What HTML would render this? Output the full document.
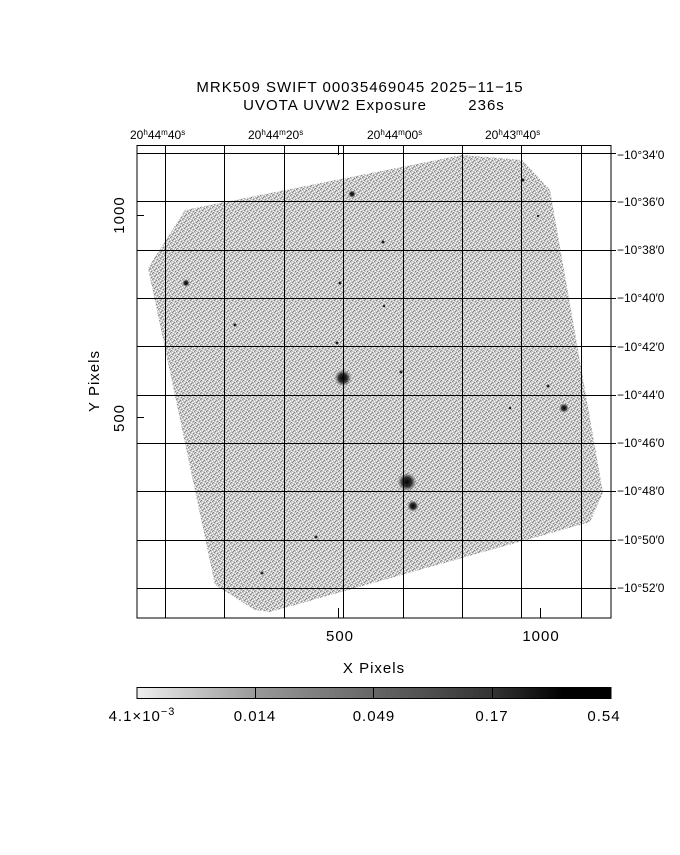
<!DOCTYPE html>
<html><head><style>
body{margin:0;background:#fff}
text{font-family:"Liberation Sans",sans-serif;fill:#000}
</style></head><body>
<svg width="680" height="850" viewBox="0 0 680 850" xmlns="http://www.w3.org/2000/svg">
<defs>
<pattern id="nz" width="6" height="6" patternUnits="userSpaceOnUse">
<rect width="6" height="6" fill="#c8c8c8"/>
<rect x="0" y="0" width="1" height="1" fill="#fff"/><rect x="3" y="1" width="1" height="1" fill="#fff"/>
<rect x="1" y="3" width="1" height="1" fill="#fff"/><rect x="4" y="4" width="1" height="1" fill="#fff"/>
<rect x="2" y="5" width="1" height="1" fill="#fff"/><rect x="5" y="2" width="1" height="1" fill="#fff"/>
<rect x="1" y="1" width="1" height="1" fill="#888"/><rect x="4" y="0" width="1" height="1" fill="#888"/>
<rect x="2" y="3" width="1" height="1" fill="#888"/><rect x="5" y="5" width="1" height="1" fill="#888"/>
<rect x="0" y="4" width="1" height="1" fill="#888"/><rect x="3" y="2" width="1" height="1" fill="#888"/>
</pattern>
<radialGradient id="g1"><stop offset="0" stop-color="#000"/><stop offset="0.5" stop-color="#333"/><stop offset="1" stop-color="#999" stop-opacity="0"/></radialGradient>
</defs>
<text x="360" y="92" font-size="15" letter-spacing="1" text-anchor="middle">MRK509 SWIFT 00035469045 2025−11−15</text>
<text x="374" y="110" font-size="15" letter-spacing="1" text-anchor="middle" xml:space="preserve">UVOTA UVW2 Exposure        236s</text>
<polygon points="148,268 185,210 462,155 522,160 550,190 603,493 590,522 270,612 255,610 215,585" fill="url(#nz)"/>
<g fill="url(#g1)">
<circle cx="343" cy="378" r="9"/><circle cx="407" cy="482" r="10"/><circle cx="413" cy="506" r="6"/>
<circle cx="564" cy="408" r="5"/><circle cx="186" cy="283" r="4"/><circle cx="352" cy="194" r="4"/>
</g>
<g fill="#222">
<circle cx="235" cy="325" r="1.5"/><circle cx="340" cy="283" r="1.5"/><circle cx="383" cy="242" r="1.5"/>
<circle cx="523" cy="180" r="1.5"/><circle cx="538" cy="216" r="1.2"/><circle cx="401" cy="372" r="1.5"/>
<circle cx="316" cy="537" r="1.5"/><circle cx="262" cy="573" r="1.5"/><circle cx="548" cy="386" r="1.5"/>
<circle cx="337" cy="343" r="1.5"/><circle cx="384" cy="306" r="1.2"/><circle cx="510" cy="408" r="1.2"/>
</g>
<g stroke="#000" stroke-width="1" fill="none">
<rect x="137" y="145.5" width="474" height="472.5"/>
<path d="M165.5 145V618M224.5 145V618M284.5 145V618M343.5 145V618M403.5 145V618M462.5 145V618M521.5 145V618M581.5 145V618"/>
<path d="M137 153.5H611M137 201.5H611M137 250.5H611M137 298.5H611M137 346.5H611M137 395.5H611M137 443.5H611M137 491.5H611M137 540.5H611M137 588.5H611"/>
<path d="M338.5 145V155M338.5 618V608M540.5 618V608M137 215.5H144M137 417.5H144"/>
<path d="M611 153.5H616M611 201.5H616M611 250.5H616M611 298.5H616M611 346.5H616M611 395.5H616M611 443.5H616M611 491.5H616M611 540.5H616M611 588.5H616"/>
</g>
<g font-size="12">
<text x="130" y="139">20<tspan font-size="8" dy="-4">h</tspan><tspan dy="4">44</tspan><tspan font-size="8" dy="-4">m</tspan><tspan dy="4">40</tspan><tspan font-size="8" dy="-4">s</tspan></text>
<text x="248" y="139">20<tspan font-size="8" dy="-4">h</tspan><tspan dy="4">44</tspan><tspan font-size="8" dy="-4">m</tspan><tspan dy="4">20</tspan><tspan font-size="8" dy="-4">s</tspan></text>
<text x="367" y="139">20<tspan font-size="8" dy="-4">h</tspan><tspan dy="4">44</tspan><tspan font-size="8" dy="-4">m</tspan><tspan dy="4">00</tspan><tspan font-size="8" dy="-4">s</tspan></text>
<text x="485" y="139">20<tspan font-size="8" dy="-4">h</tspan><tspan dy="4">43</tspan><tspan font-size="8" dy="-4">m</tspan><tspan dy="4">40</tspan><tspan font-size="8" dy="-4">s</tspan></text>
</g>
<g font-size="12">
<text x="617" y="159">−10°34′0</text><text x="617" y="206">−10°36′0</text><text x="617" y="254">−10°38′0</text>
<text x="617" y="302">−10°40′0</text><text x="617" y="351">−10°42′0</text><text x="617" y="399">−10°44′0</text>
<text x="617" y="447">−10°46′0</text><text x="617" y="495">−10°48′0</text><text x="617" y="544">−10°50′0</text>
<text x="617" y="592">−10°52′0</text>
</g>
<text x="340" y="641" font-size="15" letter-spacing="1" text-anchor="middle">500</text>
<text x="541" y="641" font-size="15" letter-spacing="1" text-anchor="middle">1000</text>
<text x="374" y="673" font-size="15" letter-spacing="1" text-anchor="middle">X Pixels</text>
<text transform="translate(124,215) rotate(-90)" font-size="15" letter-spacing="1" text-anchor="middle">1000</text>
<text transform="translate(124,418) rotate(-90)" font-size="15" letter-spacing="1" text-anchor="middle">500</text>
<text transform="translate(99,381) rotate(-90)" font-size="15" letter-spacing="1" text-anchor="middle">Y Pixels</text>
<defs><linearGradient id="cb"><stop offset="0" stop-color="#eee"/><stop offset="0.25" stop-color="#999"/><stop offset="0.5" stop-color="#666"/><stop offset="0.75" stop-color="#333"/><stop offset="0.9" stop-color="#000"/><stop offset="1" stop-color="#000"/></linearGradient></defs>
<rect x="137" y="687.5" width="474" height="11" fill="url(#cb)" stroke="#000"/>
<path d="M255.5 687V699M373.5 687V699M492.5 687V699" stroke="#000"/>
<g font-size="15" letter-spacing="1" text-anchor="middle">
<text x="142" y="721">4.1×10<tspan font-size="11" dy="-6">−3</tspan></text>
<text x="255" y="721">0.014</text><text x="374" y="721">0.049</text><text x="492" y="721">0.17</text><text x="604" y="721">0.54</text>
</g>
</svg>
</body></html>
